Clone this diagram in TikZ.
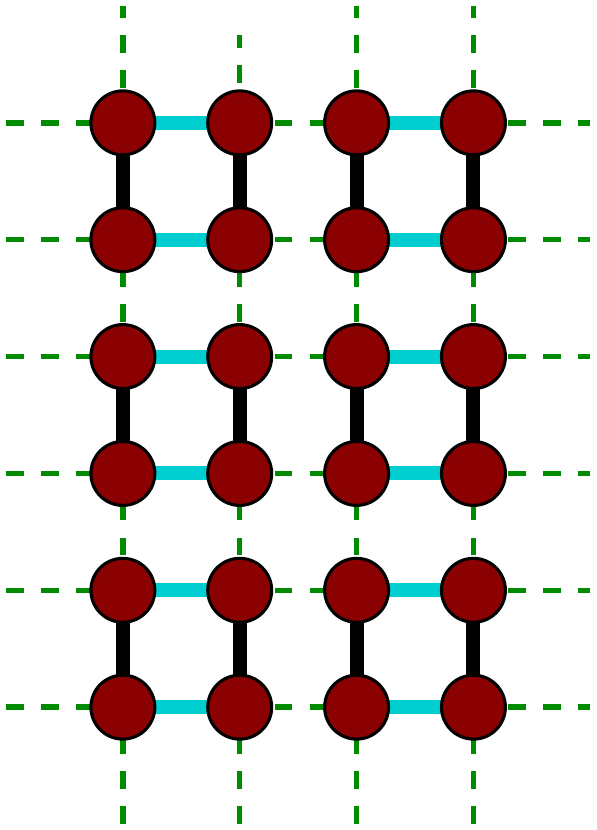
\documentclass[tikz,border=0pt]{standalone}
\usepackage{tikz}
\usetikzlibrary{backgrounds}
\definecolor{sitered}{HTML}{8B0000}
\definecolor{bondcyan}{HTML}{00CED1}
\definecolor{linkgreen}{HTML}{008B00}
\tikzset{
  site/.style={circle,draw=black,line width=0.75pt,fill=sitered,minimum size=5.47mm,inner sep=0pt},
  bondh/.style={draw=bondcyan,line width=3.4pt},
  bondv/.style={draw=black,line width=3.4pt},
  linkx/.style={draw=linkgreen,line width=1.3pt,dash pattern=on 4.3pt off 4.2pt}
}
\begin{document}
\begin{tikzpicture}
\useasboundingbox (-1.0513,1.0513) rectangle (4.0513,-6.0513);
% sites
\foreach \i in {0,...,3}{
  \foreach \j in {0,...,5}{\node[site] (s-\i-\j) at (\i,-\j) {};}
  \coordinate (t-\i) at (\i,1);
  \coordinate (b-\i) at (\i,-6);
}
\foreach \j in {0,...,5}{
  \coordinate (l-\j) at (-1,-\j);
  \coordinate (r-\j) at (4,-\j);
}
\coordinate (t-1) at (1,0.752);
% bonds
\begin{scope}[on background layer]
\foreach \j in {0,...,5}{
  \draw[bondh] (s-0-\j.center) -- (s-1-\j.center);
  \draw[bondh] (s-2-\j.center) -- (s-3-\j.center);
  \draw[linkx] (s-1-\j.center) -- (s-2-\j.center);
  \draw[linkx] (l-\j) -- (s-0-\j.center);
  \draw[linkx] (s-3-\j.center) -- (r-\j);
}
\foreach \i in {0,...,3}{
  \draw[bondv] (s-\i-1.center) -- (s-\i-0.center);
  \draw[bondv] (s-\i-3.center) -- (s-\i-2.center);
  \draw[bondv] (s-\i-5.center) -- (s-\i-4.center);
  \draw[linkx] (s-\i-2.center) -- (s-\i-1.center);
  \draw[linkx] (s-\i-4.center) -- (s-\i-3.center);
  \draw[linkx] (b-\i) -- (s-\i-5.center);
}
\foreach \i in {0,2,3}{\draw[linkx] (s-\i-0.center) -- (t-\i);}
\draw[linkx,dash phase=7.3pt] (s-1-0.center) -- (t-1);
\end{scope}
\end{tikzpicture}
\end{document}
